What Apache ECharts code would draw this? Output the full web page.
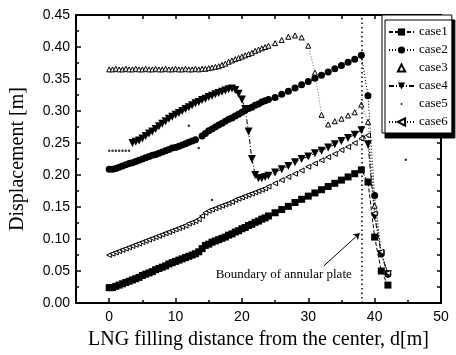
<!DOCTYPE html>
<html>
<head>
<meta charset="utf-8">
<script src="https://cdn.jsdelivr.net/npm/echarts@6/dist/echarts.min.js"></script>
<style>
  html, body { margin: 0; padding: 0; background: #fff; }
  #chart { width: 456px; height: 355px; }
</style>
</head>
<body>
<div id="chart"></div>
<script>
// filling distance d [m]: dense 0.5 steps up to 24, then 1 m steps
const xs = [0,0.5,1,1.5,2,2.5,3,3.5,4,4.5,
  5,5.5,6,6.5,7,7.5,8,8.5,9,9.5,
  10,10.5,11,11.5,12,12.5,13,13.5,14,14.5,
  15,15.5,16,16.5,17,17.5,18,18.5,19,19.5,
  20,20.5,21,21.5,22,22.5,23,23.5,24,
  25,26,27,28,29,30,31,32,33,34,35,36,37,38,39,40,41,42];

const case1 = [0.024,0.024,0.026,0.028,0.030,0.032,0.034,0.036,0.038,0.040,
  0.043,0.045,0.047,0.049,0.052,0.054,0.056,0.058,0.061,0.063,
  0.065,0.067,0.069,0.071,0.073,0.075,0.077,0.080,0.085,0.090,
  0.092,0.095,0.097,0.099,0.101,0.103,0.106,0.108,0.111,0.113,
  0.116,0.118,0.121,0.123,0.126,0.128,0.131,0.133,0.136,
  0.141,0.146,0.151,0.157,0.162,0.167,0.172,0.177,0.182,0.187,0.192,0.197,0.202,0.208,0.189,0.103,0.050,0.028];

const case2 = [0.209,0.209,0.210,0.212,0.214,0.216,0.218,0.219,0.221,0.223,
  0.225,0.227,0.229,0.231,0.232,0.234,0.236,0.238,0.240,0.242,
  0.243,0.245,0.247,0.249,0.251,0.253,0.255,null,0.261,0.265,
  0.269,0.272,0.275,0.278,0.281,0.284,0.287,0.289,0.292,0.295,
  0.298,0.301,0.304,0.306,0.309,0.311,0.314,0.316,0.318,
  0.321,0.326,0.331,0.336,0.341,0.346,0.351,0.356,0.361,0.366,0.371,0.376,0.381,0.387,0.324,0.168,0.077,0.045];

const case3 = [0.365,0.365,0.366,0.365,0.365,0.366,0.365,0.365,0.366,0.365,
  0.365,0.366,0.365,0.365,0.366,0.365,0.365,0.366,0.365,0.365,
  0.366,0.365,0.365,0.366,0.365,0.365,0.366,0.365,0.366,0.366,
  0.367,0.368,0.369,0.370,0.372,0.374,0.377,0.379,0.381,0.383,
  0.385,0.387,0.389,0.391,0.394,0.396,0.398,0.400,0.402,
  0.406,0.411,0.416,0.418,0.415,0.402,0.360,0.294,0.279,0.284,0.288,0.293,0.298,0.310,0.283,0.152,0.078,0.046];

const case4 = [null,null,null,null,null,null,null,0.250,0.252,0.254,
  0.257,0.261,0.265,0.268,0.272,0.276,0.280,0.284,0.288,0.291,
  0.294,0.297,0.300,0.303,0.306,0.309,0.312,0.314,0.317,0.319,
  0.322,0.324,0.326,0.328,0.330,0.332,0.334,0.335,0.333,0.327,
  0.318,0.303,0.268,0.225,0.200,0.195,0.195,0.197,0.199,
  0.204,0.209,0.214,0.220,0.225,0.229,0.234,0.238,0.243,0.248,0.253,0.258,0.263,0.270,0.248,0.135,0.076,0.045];

const case5X = [0,0.5,1,1.5,2,2.5,3,12,13.5,15.5,44.7];
const case5Y = [0.238,0.238,0.238,0.238,0.238,0.238,0.238,0.277,0.242,0.161,0.224];

const case6 = [0.075,0.077,0.079,0.081,0.083,0.085,0.087,0.089,0.091,0.093,
  0.095,0.097,0.099,0.101,0.103,0.105,0.107,0.109,0.111,0.113,
  0.115,0.117,0.119,0.121,0.124,0.126,0.128,0.131,0.136,0.141,
  0.144,0.146,0.148,0.150,0.152,0.154,0.156,0.158,0.161,0.163,
  0.165,0.167,0.169,0.171,0.173,0.175,0.177,0.179,0.182,
  0.187,0.192,0.197,0.202,0.207,0.213,0.218,0.223,0.228,0.233,0.239,0.244,0.250,0.257,0.262,0.140,0.080,0.047];

const xMajor = [0, 10, 20, 30, 40, 50];
const xMinor = [-5, 5, 15, 25, 35, 45];
const boundaryX = 38;
const noteText = 'Boundary of annular plate';
const notePos = [26.3, 0.044];
const arrowFrom = [32.35, 0.058];
const arrowTo = [37.75, 0.109];

function pairs(xv, yv) {
  return xv.map((x, i) => [x, yv[i]]);
}

const serif = '"Liberation Serif", "DejaVu Serif", serif';
const sans = '"Liberation Sans", Arial, sans-serif';

const chart = echarts.init(document.getElementById('chart'));

const baseX = {
  type: 'value', min: -5, max: 50, interval: 5,
  splitLine: { show: false },
  axisLine: { onZero: false, lineStyle: { color: '#000', width: 2 } }
};
const baseY = {
  type: 'value', min: 0, max: 0.45, interval: 0.05,
  splitLine: { show: false },
  axisLine: { onZero: false, lineStyle: { color: '#000', width: 2 } }
};

const option = {
  animation: false,
  backgroundColor: '#fff',
  grid: { left: 74, right: 15, top: 15, bottom: 48, containLabel: false },
  xAxis: [
    Object.assign({}, baseX, {
      position: 'bottom',
      name: 'LNG filling distance from the center, d[m]',
      nameLocation: 'middle',
      nameGap: 27,
      nameTextStyle: { fontFamily: serif, fontSize: 20, color: '#000' },
      axisTick: { inside: true, length: 5, customValues: xMajor, lineStyle: { color: '#000', width: 1.5 } },
      axisLabel: {
        margin: 7, color: '#000', fontFamily: sans, fontSize: 14, customValues: xMajor,
        formatter: v => (v % 10 === 0 ? String(v) : '')
      }
    }),
    Object.assign({}, baseX, {
      position: 'bottom',
      axisLine: { show: false },
      axisTick: { inside: true, length: 3, customValues: xMinor, lineStyle: { color: '#000', width: 1.5 } },
      axisLabel: { show: false }
    }),
    Object.assign({}, baseX, {
      position: 'top',
      axisTick: { inside: true, length: 4, lineStyle: { color: '#000', width: 1.5 } },
      axisLabel: { show: false }
    })
  ],
  yAxis: [
    Object.assign({}, baseY, {
      position: 'left',
      name: 'Displacement [m]',
      nameLocation: 'middle',
      nameGap: 48,
      nameTextStyle: { fontFamily: serif, fontSize: 20, color: '#000' },
      axisTick: { inside: true, length: 5, lineStyle: { color: '#000', width: 1.5 } },
      minorTick: { show: true, splitNumber: 2, length: 3, lineStyle: { color: '#000', width: 1.5 } },
      axisLabel: { margin: 6, color: '#000', fontFamily: sans, fontSize: 14, formatter: v => v.toFixed(2) }
    }),
    Object.assign({}, baseY, {
      position: 'right',
      interval: 0.025,
      axisTick: { inside: true, length: 4, lineStyle: { color: '#000', width: 1.5 } },
      axisLabel: { show: false }
    })
  ],
  legend: {
    orient: 'vertical',
    left: 382,
    top: 15,
    padding: [10, 4, 4, 6],
    itemWidth: 25,
    itemHeight: 9,
    itemGap: 4,
    backgroundColor: '#fff',
    borderColor: '#000',
    borderWidth: 1,
    shadowColor: '#000',
    shadowBlur: 0,
    shadowOffsetX: 3,
    shadowOffsetY: 5,
    textStyle: { fontFamily: serif, fontSize: 13, lineHeight: 14, color: '#000' },
    data: [
      { name: 'case1' },
      { name: 'case2' },
      { name: 'case3', lineStyle: { opacity: 0 } },
      { name: 'case4' },
      { name: 'case5', icon: 'path://M0,0M10,10M4,4h2v2h-2z' },
      { name: 'case6' }
    ]
  },
  series: [
    {
      name: 'case1', type: 'line', data: pairs(xs, case1),
      symbol: 'rect', symbolSize: 7,
      itemStyle: { color: '#000' },
      lineStyle: { color: '#000', width: 1, type: [4, 2] },
      markLine: {
        silent: true, symbol: 'none', label: { show: false },
        lineStyle: { color: '#000', width: 1.5, type: [1.5, 3] },
        data: [{ xAxis: boundaryX }]
      }
    },
    {
      name: 'case2', type: 'line', data: pairs(xs, case2),
      symbol: 'circle', symbolSize: 7,
      itemStyle: { color: '#000' },
      lineStyle: { color: '#000', width: 1, type: [1, 2] },
      markLine: {
        silent: true, symbol: ['none', 'arrow'], symbolSize: 6, label: { show: false },
        lineStyle: { color: '#000', width: 1, type: 'solid' },
        data: [[{ coord: arrowFrom }, { coord: arrowTo }]]
      }
    },
    {
      name: 'case3', type: 'line', data: pairs(xs, case3),
      symbol: 'triangle', symbolSize: 5,
      itemStyle: { color: '#fff', borderColor: '#000', borderWidth: 1 },
      lineStyle: { color: '#444', width: 0.8, type: [1, 2] }
    },
    {
      name: 'case4', type: 'line', data: pairs(xs, case4),
      symbol: 'triangle', symbolRotate: 180, symbolSize: 8,
      itemStyle: { color: '#000' },
      lineStyle: { color: '#000', width: 1, type: [5, 2, 1, 2] },
      markPoint: {
        silent: true, symbol: 'rect', symbolSize: 1,
        itemStyle: { color: 'transparent' },
        label: { show: true, position: 'inside', formatter: noteText, fontFamily: serif, fontSize: 13, color: '#000' },
        data: [{ coord: notePos }]
      }
    },
    {
      name: 'case5', type: 'scatter', data: pairs(case5X, case5Y),
      symbol: 'circle', symbolSize: 2.5,
      itemStyle: { color: '#000' }
    },
    {
      name: 'case6', type: 'line', data: pairs(xs, case6),
      symbol: 'triangle', symbolRotate: 90, symbolSize: 5,
      itemStyle: { color: '#fff', borderColor: '#000', borderWidth: 1 },
      lineStyle: { color: '#000', width: 1, type: [1, 2] }
    }
  ]
};

chart.setOption(option);
</script>
</body>
</html>
